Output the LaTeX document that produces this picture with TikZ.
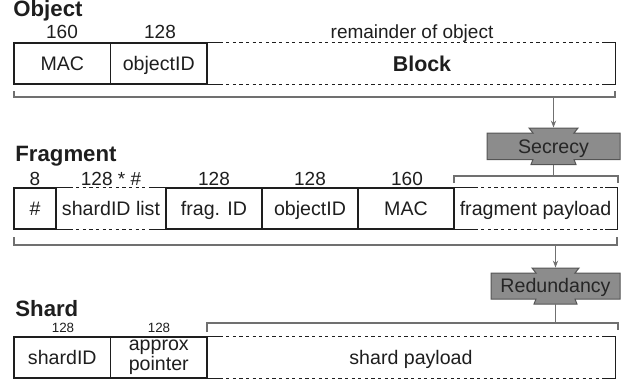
\documentclass[tikz,border=0pt]{standalone}
\usepackage{fontspec}
\setmainfont{Liberation Sans}
\usetikzlibrary{arrows.meta,calc}
\pgfdeclarelayer{bg}
\pgfsetlayers{bg,main}
\definecolor{ink}{HTML}{1E1E1E}
\definecolor{brk}{HTML}{707070}
\definecolor{kfill}{HTML}{8C8C8C}
\definecolor{kdraw}{HTML}{555555}
\definecolor{ktext}{HTML}{262626}
\newcommand\lblfont{\fontsize{9.8pt}{10pt}\selectfont}
\newcommand\numfont{\fontsize{9.5pt}{11pt}\selectfont}
\newcommand\smallnumfont{\fontsize{6.7pt}{8pt}\selectfont}
\newcommand\ttlfont{\fontsize{11.1pt}{13pt}\selectfont\bfseries}
\newcommand\blockfont{\fontsize{10.7pt}{12pt}\selectfont\bfseries}
\begin{document}
\begin{tikzpicture}[x=0.5pt,y=-0.5pt,
 cell/.style={inner sep=0pt, minimum height=20.5pt, text height=7pt, text depth=0pt, font=\lblfont, text=ink},
 sbox/.style={cell, draw=ink, line width=0.7pt},
 border/.style={draw=ink, line width=0.7pt},
 dotline/.style={draw=ink, line width=0.6pt, dash pattern=on 1.6pt off 1.7pt},
 brace/.style={draw=brk, line width=0.55pt},
 flow/.style={draw=brk, line width=0.55pt, -{Stealth[length=3.5pt,width=2.6pt]}},
 title/.style={anchor=base west, inner sep=0pt, font=\ttlfont, text=ink},
 bits/.style={anchor=base, inner sep=0pt, font=\numfont, text=ink},
 sbits/.style={anchor=base, inner sep=0pt, font=\smallnumfont, text=ink},
 keytext/.style={inner sep=0pt, text height=6.9pt, text depth=0pt, font=\lblfont, text=ktext},
 keyshape/.style={fill=kfill, draw=kdraw, line width=0.5pt, line join=miter}
]
\useasboundingbox (0,0) rectangle (621,381);

% ---------------- Object ----------------
\node[title] (tobj) at (13,16.7) {Object};
\node[bits] (o160) at (62,38) {160};
\node[bits] (o128) at (160,38) {128};
\node[bits] (orem) at (412,38) {remainder of object};

\node[sbox, minimum width=48.3pt] (omac) at (62.3,63.5) {MAC};
\node[sbox, minimum width=48.2pt] (oid) at (158.8,63.5) {objectID};
\node[cell, minimum width=204pt] (oblock) at (411,63.5) {};
\node[cell, font=\blockfont, text height=7.7pt] (oblocktxt) at (422,63.5) {Block};
\draw[border] ([xshift=6.5pt]oblock.north west) -- (oblock.north west);
\draw[border] ([xshift=6.5pt]oblock.south west) -- (oblock.south west);
\draw[border] ([xshift=-6pt]oblock.north east) -- (oblock.north east) -- (oblock.south east) -- ([xshift=-6pt]oblock.south east);
\draw[dotline] ([xshift=6.5pt]oblock.north west) -- ([xshift=-6pt]oblock.north east);
\draw[dotline] ([xshift=6.5pt]oblock.south west) -- ([xshift=-6pt]oblock.south east);

\draw[brace] (14,91) -- (14,97) -- (615,97) -- (615,91);
\coordinate (obr) at (553.5,97);

% ---------------- Secrecy ----------------
\node[keytext, minimum width=66.5pt, minimum height=18.25pt] (sec) at (553.5,146.25) {Secrecy};
\begin{pgfonlayer}{bg}
\draw[keyshape] (487,133) -- (533,133) -- (529,128) -- (578,128) -- (574,133) -- (620,133) -- (620,159.5) -- (574,159.5) -- (576,164.5) -- (531,164.5) -- (533,159.5) -- (487,159.5) -- cycle;
\end{pgfonlayer}
\draw[flow] (obr) -- (sec.north);

% ---------------- Fragment ----------------
\node[title] (tfrag) at (15,161) {Fragment};
\node[bits] (f8) at (35,185) {8};
\node[bits] (f128a) at (111,185) {128 * \#};
\node[bits] (f128b) at (214,185) {128};
\node[bits] (f128c) at (310,185) {128};
\node[bits] (f160) at (407,185) {160};

\node[sbox, minimum width=21pt] (fhash) at (35,208.5) {\#};
\node[cell, minimum width=55pt] (fshard) at (111,208.5) {shardID list};
\node[sbox, minimum width=48pt] (ffrag) at (214,208.5) {frag. ID};
\node[sbox, minimum width=48pt] (fobj) at (310,208.5) {objectID};
\node[sbox, minimum width=48pt] (fmac) at (406,208.5) {MAC};
\node[cell, minimum width=81.5pt] (fpay) at (535.5,208.5) {fragment payload};

\draw[border] ([xshift=7pt]fshard.north west) -- (fshard.north west);
\draw[border] ([xshift=7pt]fshard.south west) -- (fshard.south west);
\draw[border] ([xshift=-7pt]fshard.north east) -- (fshard.north east);
\draw[border] ([xshift=-7pt]fshard.south east) -- (fshard.south east);
\draw[dotline] ([xshift=7pt]fshard.north west) -- ([xshift=-7pt]fshard.north east);
\draw[dotline] ([xshift=7pt]fshard.south west) -- ([xshift=-7pt]fshard.south east);

\draw[border] ([xshift=10.5pt]fpay.north west) -- (fpay.north west);
\draw[border] ([xshift=10.5pt]fpay.south west) -- (fpay.south west);
\draw[border] ([xshift=-6pt]fpay.north east) -- (fpay.north east) -- (fpay.south east) -- ([xshift=-6pt]fpay.south east);
\draw[dotline] ([xshift=10.5pt]fpay.north west) -- ([xshift=-6pt]fpay.north east);
\draw[dotline] ([xshift=10.5pt]fpay.south west) -- ([xshift=-6pt]fpay.south east);

\draw[brace] (454,183) -- (454,176) -- (618,176) -- (618,183);
\coordinate (fpb) at (553.5,176);
\draw[brace] (sec.south) -- (fpb);

\draw[brace] (14,237) -- (14,245) -- (617,245) -- (617,237);
\coordinate (fbr) at (555.5,245);

% ---------------- Redundancy ----------------
\node[keytext, minimum width=64.5pt, minimum height=18pt] (red) at (555.5,286) {Redundancy};
\begin{pgfonlayer}{bg}
\draw[keyshape] (491,273) -- (536,273) -- (532,268) -- (579,268) -- (575,273) -- (620,273) -- (620,299) -- (575,299) -- (577,304) -- (534,304) -- (536,299) -- (491,299) -- cycle;
\end{pgfonlayer}
\draw[flow] (fbr) -- (red.north);

% ---------------- Shard ----------------
\node[title] (tshard) at (15,316) {Shard};
\node[sbits] (s128a) at (63,332.7) {128};
\node[sbits] (s128b) at (159,332.7) {128};

\node[sbox, minimum width=48.3pt] (sid) at (62.3,357.5) {shardID};
\node[sbox, minimum width=48.2pt, align=center, text height=, text depth=] (sptr) at (158.8,357.5) {approx\\pointer};
\node[cell, minimum width=204pt] (spay) at (411,357.5) {shard payload};
\draw[border] ([xshift=6.5pt]spay.north west) -- (spay.north west);
\draw[border] ([xshift=6.5pt]spay.south west) -- (spay.south west);
\draw[border] ([xshift=-6pt]spay.north east) -- (spay.north east) -- (spay.south east) -- ([xshift=-6pt]spay.south east);
\draw[dotline] ([xshift=6.5pt]spay.north west) -- ([xshift=-6pt]spay.north east);
\draw[dotline] ([xshift=6.5pt]spay.south west) -- ([xshift=-6pt]spay.south east);

\draw[brace] (207,332) -- (207,323) -- (618,323) -- (618,330);
\coordinate (sbr) at (555.5,323);
\draw[brace] (red.south) -- (sbr);
\end{tikzpicture}
\end{document}
